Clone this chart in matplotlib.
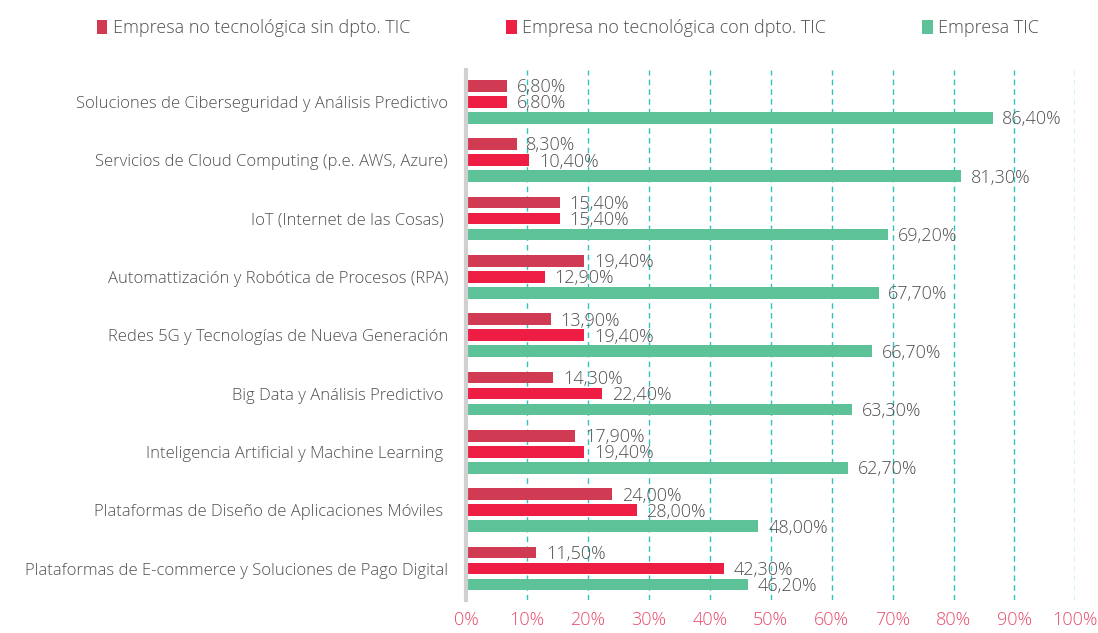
import matplotlib.pyplot as plt
import numpy as np

categorias = [
    'Soluciones de Ciberseguridad y Análisis Predictivo',
    'Servicios de Cloud Computing (p.e. AWS, Azure)',
    'IoT (Internet de las Cosas) ',
    'Automattización y Robótica de Procesos (RPA)',
    'Redes 5G y Tecnologías de Nueva Generación',
    'Big Data y Análisis Predictivo ',
    'Inteligencia Artificial y Machine Learning ',
    'Plataformas de Diseño de Aplicaciones Móviles ',
    'Plataformas de E-commerce y Soluciones de Pago Digital',
]
sin_dpto = [6.8, 8.3, 15.4, 19.4, 13.9, 14.3, 17.9, 24.0, 11.5]
con_dpto = [6.8, 10.4, 15.4, 12.9, 19.4, 22.4, 19.4, 28.0, 42.3]
empresa_tic = [86.4, 81.3, 69.2, 67.7, 66.7, 63.3, 62.7, 48.0, 46.2]
series = ['Empresa no tecnológica sin dpto. TIC',
          'Empresa no tecnológica con dpto. TIC',
          'Empresa TIC']
colores = ['#D03A52', '#EE1D43', '#5EC298']

plt.rcParams['font.family'] = ['Open Sans', 'DejaVu Sans']
plt.rcParams['font.weight'] = 'light'
texto = '#505050'

fig = plt.figure(figsize=(10.98, 6.33), dpi=100)
ax = fig.add_axes([0.4244, 0.052, 0.555, 0.837])

y = np.arange(len(categorias))
off = 0.275
h = 0.2
for i, (vals, col, lab) in enumerate(zip([sin_dpto, con_dpto, empresa_tic], colores, series)):
    pos = y + (i - 1) * off
    ax.barh(pos, vals, height=h, color=col, label=lab, zorder=3)
    for yy, v in zip(pos, vals):
        ax.annotate(f'{v:.2f}%'.replace('.', ','), (v, yy), xytext=(7, -1),
                    textcoords='offset points', va='center', ha='left',
                    fontsize=13, color=texto, zorder=4)

ax.set_ylim(len(categorias) - 0.46, -0.54)
ax.set_xlim(0, 100)
ax.set_yticks(y)
ax.set_yticklabels(categorias, fontsize=12, color=texto)
ax.set_xticks(np.arange(0, 101, 10))
ax.set_xticklabels([f'{t}%' for t in range(0, 101, 10)], fontsize=13, color='#E94B6A')
ax.tick_params(axis='both', length=0)
ax.tick_params(axis='y', pad=13)
ax.tick_params(axis='x', pad=8)
ax.xaxis.grid(True, linestyle=(0, (4, 3)), color='#2DC4BC', linewidth=1, zorder=0)
ax.set_axisbelow(True)
for s in ['top', 'right', 'bottom']:
    ax.spines[s].set_visible(False)
ax.spines['left'].set_color('#D0D0D0')
ax.spines['left'].set_linewidth(3)
ax.spines['left'].set_zorder(5)

fig.legend(loc='upper center', bbox_to_anchor=(0.517, 0.995), ncol=3, frameon=False,
           fontsize=13, labelcolor=texto, handlelength=0.6, handleheight=0.8,
           handletextpad=0.3, columnspacing=5.3)

fig.savefig('out.png', dpi=100)
